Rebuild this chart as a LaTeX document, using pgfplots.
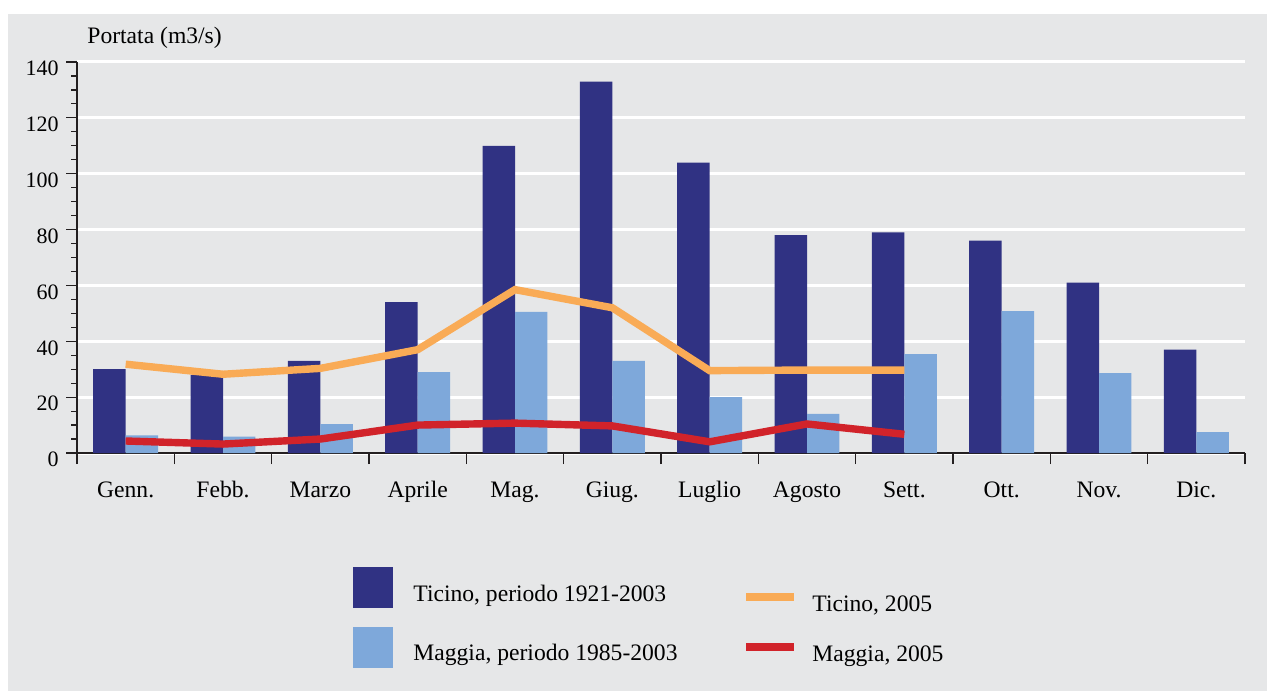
\documentclass[border=0pt]{standalone}
\usepackage{pgfplots}
\usepackage{pgfplotstable}
\pgfplotsset{compat=1.18}
\usepackage{fontspec}
\setmainfont{Liberation Serif}
\definecolor{bg}{HTML}{E6E7E8}
\definecolor{darkbar}{HTML}{303283}
\definecolor{lightbar}{HTML}{7EA8DA}
\definecolor{orangeline}{HTML}{F9AB56}
\definecolor{redline}{HTML}{D1232A}
\definecolor{axiscol}{HTML}{231F20}

\pgfplotstableread{
x dark light
0 30 6.3
1 28 5.9
2 33 10.3
3 54 29
4 110 50.5
5 133 33
6 104 20
7 78 14
8 79 35.4
9 76 50.8
10 61 28.6
11 37 7.5
}\bars

\pgfplotstableread{
x ticino maggia
0 31.8 4.3
1 28.2 3.2
2 30.3 5.0
3 37 10.0
4 58.5 10.7
5 52 9.7
6 29.5 4.0
7 29.7 10.4
8 29.7 6.7
}\lines

\begin{document}
\begin{tikzpicture}[x=1pt,y=1pt]
\useasboundingbox (-38.5,-119) rectangle (595,226.5);
\fill[white] (-38.5,-119) rectangle (595,226.5);
\fill[bg] (-34.5,-119) rectangle (595,219.5);
\begin{axis}[
  at={(0,0)}, anchor=south west,
  scale only axis, width=584pt, height=195.5pt,
  xmin=-0.5, xmax=11.5, ymin=0, ymax=140,
  axis x line=bottom, axis y line=left,
  axis line style={-, line width=1pt, color=axiscol},
  tick align=outside,
  major tick length=5.5pt, minor tick length=3pt,
  tick style={color=axiscol, line width=0.6pt},
  ytick={0,20,40,60,80,100,120,140},
  yticklabels={0,20,40,60,80,100,120,140},
  minor y tick num=3,
  ymajorgrids,
  major grid style={white, line width=1.5pt},
  /pgf/number format/assume math mode=true,
  yticklabel style={font=\rmfamily\fontsize{11}{12}\selectfont, anchor=north east, inner sep=0pt, xshift=-3.5pt, yshift=0.6pt},
  xtick={-0.5,0.5,1.5,2.5,3.5,4.5,5.5,6.5,7.5,8.5,9.5,10.5,11.5},
  xticklabels={},
  extra x ticks={0,1,2,3,4,5,6,7,8,9,10,11},
  extra x tick labels={Genn.,Febb.,Marzo,Aprile,Mag.,Giug.,Luglio,Agosto,Sett.,Ott.,Nov.,Dic.},
  extra x tick style={major tick length=0pt, xticklabel style={font=\rmfamily\fontsize{11.8}{14}\selectfont, anchor=base, inner sep=0pt, yshift=-22pt}},
  clip=false,
]
\addplot[ybar, bar width=0.3333, bar shift=-0.16667, fill=darkbar, draw=none] table[x=x, y=dark] {\bars};
\addplot[ybar, bar width=0.3333, bar shift=0.16667, fill=lightbar, draw=none] table[x=x, y=light] {\bars};
\addplot[orangeline, line width=3.7pt, mark=none] table[x=x, y=ticino] {\lines};
\addplot[redline, line width=3.7pt, mark=none] table[x=x, y=maggia] {\lines};
\end{axis}
\node[anchor=base west, inner sep=0pt, font=\rmfamily\fontsize{11.8}{14}\selectfont] at (5,204.75) {Portata (m3/s)};
% legend
\fill[darkbar] (138,-57) rectangle (158,-77.5);
\fill[lightbar] (138,-87) rectangle (158,-107.5);
\node[anchor=base west, inner sep=0pt, font=\rmfamily\fontsize{11.8}{14}\selectfont] at (168,-74) {Ticino, periodo 1921-2003};
\node[anchor=base west, inner sep=0pt, font=\rmfamily\fontsize{11.8}{14}\selectfont] at (168,-103.5) {Maggia, periodo 1985-2003};
\draw[orangeline, line width=3.8pt] (334.5,-72) -- (358.5,-72);
\draw[redline, line width=3.8pt] (334.5,-97) -- (358.5,-97);
\node[anchor=base west, inner sep=0pt, font=\rmfamily\fontsize{11.8}{14}\selectfont] at (367.5,-79) {Ticino, 2005};
\node[anchor=base west, inner sep=0pt, font=\rmfamily\fontsize{11.8}{14}\selectfont] at (367.5,-104) {Maggia, 2005};
\end{tikzpicture}
\end{document}
